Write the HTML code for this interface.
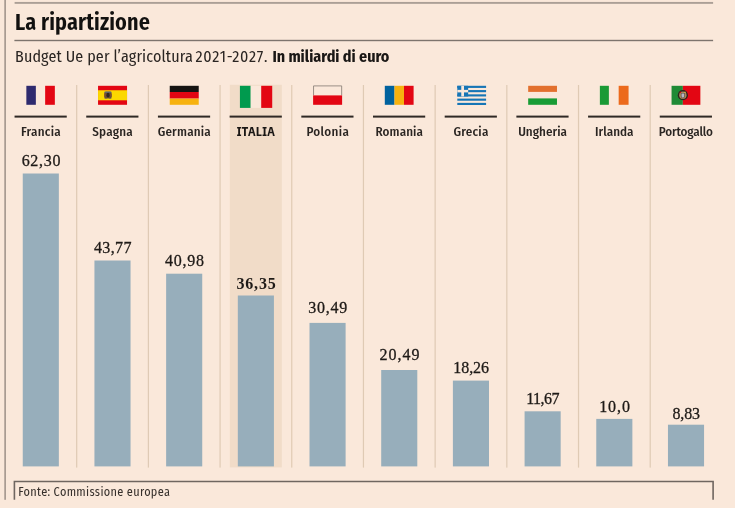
<!DOCTYPE html>
<html lang="it"><head><meta charset="utf-8"><title>La ripartizione</title>
<style>
html,body{margin:0;padding:0}
body{width:735px;height:508px;background:#fae8da;position:relative;overflow:hidden;font-family:"Fira Sans Condensed","Liberation Sans",sans-serif;color:#1e1a17}
svg.g{position:absolute;left:0;top:0}
#title{position:absolute;left:15px;top:7px;font-family:"Fira Sans Extra Condensed","Liberation Sans",sans-serif;font-weight:600;font-size:24px;letter-spacing:0.15px;line-height:30px;white-space:nowrap;color:#121110}
#sub{position:absolute;left:15px;top:47px;font-size:16px;line-height:20px;white-space:nowrap;color:#2a2522}
#sub .r{letter-spacing:0.13px}
#sub .d{letter-spacing:0.75px;margin-left:-1.3px}
#sub .s{display:inline-block;width:4.3px}
#sub b{font-weight:700;color:#1a1715}
.nm{position:absolute;top:124px;width:72px;text-align:center;font-size:13px;line-height:16px;font-weight:500;white-space:nowrap;color:#2a2522}
.nm.b{font-family:"IBM Plex Sans Condensed","Fira Sans Condensed","Liberation Sans",sans-serif;font-weight:700;color:#1a1715}
.vl{position:absolute;width:72px;text-align:center;text-indent:0.6px;letter-spacing:0.6px;font-family:"Liberation Serif",serif;font-size:16px;line-height:20px;white-space:nowrap;color:#1e1a17;-webkit-text-stroke:0.3px #1e1a17}
.vl.b{font-weight:700;-webkit-text-stroke:0}
.nm .t{display:inline-block}
body.nf #title{font-size:22.4px;font-weight:700;letter-spacing:0;top:7.5px;-webkit-text-stroke:0.4px #121110}
body.nf #sub{font-size:15.2px;top:47.5px}
body.nf #sub .r,body.nf #sub .d{letter-spacing:0}
body.nf .nm{font-size:12.4px;font-weight:700;letter-spacing:0!important;text-indent:0!important}
body.nf #src{font-size:11.8px;letter-spacing:0}
#src{position:absolute;left:18.3px;top:484px;font-size:12.2px;font-weight:400;letter-spacing:0.33px;line-height:16px;white-space:nowrap;color:#36302c}
</style></head><body>
<svg class="g" width="735" height="508" viewBox="0 0 735 508">
<rect x="229.82" y="84.8" width="52" height="382.6" fill="#f1dcc8"/>
<rect x="76.09" y="85" width="1.2" height="382.6" fill="#dfcab4"/>
<rect x="147.78" y="85" width="1.2" height="382.6" fill="#dfcab4"/>
<rect x="219.47" y="85" width="1.2" height="382.6" fill="#dfcab4"/>
<rect x="291.16" y="85" width="1.2" height="382.6" fill="#dfcab4"/>
<rect x="362.85" y="85" width="1.2" height="382.6" fill="#dfcab4"/>
<rect x="434.54" y="85" width="1.2" height="382.6" fill="#dfcab4"/>
<rect x="506.23" y="85" width="1.2" height="382.6" fill="#dfcab4"/>
<rect x="577.92" y="85" width="1.2" height="382.6" fill="#dfcab4"/>
<rect x="649.61" y="85" width="1.2" height="382.6" fill="#dfcab4"/>
<rect x="22.75" y="173.50" width="36.1" height="292.90" fill="#97aebb"/>
<rect x="94.44" y="260.50" width="36.1" height="205.90" fill="#97aebb"/>
<rect x="166.13" y="273.70" width="36.1" height="192.70" fill="#97aebb"/>
<rect x="237.82" y="295.50" width="36.1" height="170.90" fill="#97aebb"/>
<rect x="309.51" y="322.90" width="36.1" height="143.50" fill="#97aebb"/>
<rect x="381.20" y="370.00" width="36.1" height="96.40" fill="#97aebb"/>
<rect x="452.89" y="380.60" width="36.1" height="85.80" fill="#97aebb"/>
<rect x="524.58" y="411.30" width="36.1" height="55.10" fill="#97aebb"/>
<rect x="596.27" y="418.90" width="36.1" height="47.50" fill="#97aebb"/>
<rect x="667.96" y="424.70" width="36.1" height="41.70" fill="#97aebb"/>
<rect x="14.55" y="115.6" width="52.2" height="2" fill="#2f2925"/>
<rect x="86.24" y="115.6" width="52.2" height="2" fill="#2f2925"/>
<rect x="157.93" y="115.6" width="52.2" height="2" fill="#2f2925"/>
<rect x="229.62" y="115.6" width="52.2" height="2" fill="#2f2925"/>
<rect x="301.31" y="115.6" width="52.2" height="2" fill="#2f2925"/>
<rect x="373.00" y="115.6" width="52.2" height="2" fill="#2f2925"/>
<rect x="444.69" y="115.6" width="52.2" height="2" fill="#2f2925"/>
<rect x="516.38" y="115.6" width="52.2" height="2" fill="#2f2925"/>
<rect x="588.07" y="115.6" width="52.2" height="2" fill="#2f2925"/>
<rect x="659.76" y="115.6" width="52.2" height="2" fill="#2f2925"/>
<g transform="translate(26.35,85.8)"><rect x="0" y="0" width="9.5" height="19" fill="#2e2a6e"/><rect x="18.8" y="0" width="9.7" height="19" fill="#e30613"/></g>
<g transform="translate(98.04,85.8)"><rect x="0" y="0" width="29" height="19" fill="#e30613"/><rect x="0" y="4.45" width="29" height="10.05" fill="#fbd800"/><rect x="6.1" y="5.9" width="7.6" height="6.9" rx="2" fill="#74502f"/><rect x="6.4" y="5.8" width="7" height="1.3" rx="0.6" fill="#5f6572"/><rect x="6.4" y="11.6" width="2.2" height="1.2" rx="0.5" fill="#4a5366"/><rect x="11.2" y="11.6" width="2.2" height="1.2" rx="0.5" fill="#4a5366"/><ellipse cx="10" cy="9.4" rx="1.6" ry="2.4" fill="#2e2622"/><rect x="6.1" y="8.2" width="1.2" height="2.6" fill="#8a5a34"/><rect x="12.5" y="8.2" width="1.2" height="2.6" fill="#8a5a34"/></g>
<g transform="translate(169.73,85.8)"><rect x="0" y="0" width="29" height="6.2" fill="#161412"/><rect x="0" y="6.2" width="29" height="6.6" fill="#e30613"/><rect x="0" y="12.8" width="29" height="6.2" fill="#f7b20f"/></g>
<g transform="translate(239.92,85.8)"><rect x="0" y="0" width="10.8" height="22.1" fill="#009a4e"/><rect x="10.8" y="0" width="10.5" height="22.1" fill="#fae8da"/><rect x="21.3" y="0" width="11" height="22.1" fill="#e30613"/></g>
<g transform="translate(313.11,85.8)"><path d="M0.45 9.6 V0.1 H28.55 V9.6" fill="none" stroke="#8f857d" stroke-width="0.9"/><rect x="0" y="9.6" width="29" height="9.4" fill="#e30613"/></g>
<g transform="translate(384.80,85.8)"><rect x="0" y="0" width="9.7" height="19" fill="#00629e"/><rect x="9.7" y="0" width="9.5" height="19" fill="#f7b20f"/><rect x="19.2" y="0" width="9.6" height="19" fill="#e30613"/></g>
<g transform="translate(456.49,85.8)"><g transform="translate(0.8,0)"><rect x="0" y="0.00" width="28.8" height="2.13" fill="#1675b6"/><rect x="0" y="4.27" width="28.8" height="2.13" fill="#1675b6"/><rect x="0" y="8.53" width="28.8" height="2.13" fill="#1675b6"/><rect x="0" y="12.80" width="28.8" height="2.13" fill="#1675b6"/><rect x="0" y="17.07" width="28.8" height="2.13" fill="#1675b6"/><rect x="0" y="0" width="10.87" height="10.67" fill="#1675b6"/><rect x="3.97" y="0" width="2.73" height="10.67" fill="#fae8da"/><rect x="0" y="4.07" width="10.87" height="2.53" fill="#fae8da"/></g></g>
<g transform="translate(528.18,85.8)"><rect x="0" y="0" width="28.8" height="6.1" fill="#e2702e"/><rect x="0" y="12.6" width="28.8" height="6.4" fill="#189c35"/></g>
<g transform="translate(599.87,85.8)"><rect x="0" y="0" width="9.0" height="19" fill="#1a9a35"/><rect x="18.8" y="0" width="9.9" height="19" fill="#ec6a1c"/></g>
<g transform="translate(671.56,85.8)"><rect x="0" y="0" width="11.3" height="19" fill="#1f8a35"/><rect x="11.3" y="0" width="17.5" height="19" fill="#e30613"/><circle cx="11.3" cy="9.4" r="5.1" fill="#2c241c"/><circle cx="11.3" cy="9.4" r="3.7" fill="#a8875a"/><path d="M9.3 7.2 H13.3 V10.2 Q13.3 12.2 11.3 12.6 Q9.3 12.2 9.3 10.2 Z" fill="#5a4636"/><path d="M9.9 7.8 H12.7 V10.1 Q12.7 11.6 11.3 11.9 Q9.9 11.6 9.9 10.1 Z" fill="#b4b6c6"/><rect x="8.2" y="5.9" width="1.3" height="1.3" fill="#e30613"/><rect x="12.9" y="5.9" width="1.2" height="1.2" fill="#e8c23a"/></g>
<rect x="4.55" y="0" width="1.05" height="499.8" fill="#756b64"/>
<rect x="14.6" y="1.95" width="698.5" height="1.9" fill="#ab9f96"/>
<rect x="14.4" y="39.8" width="698.7" height="1.4" fill="#7d746d"/>
<path d="M14.4 499.8 V481.5 H713.1 V499.8" fill="none" stroke="#6f6660" stroke-width="1.6"/>
</svg>
<div id="title">La ripartizione</div>
<div id="sub"><span class="r">Budget Ue per l’agricoltura </span><span class="d">2021-2027.</span><span class="s"></span><b>In miliardi di euro</b></div>
<div class="nm" style="left:4.75px;letter-spacing:0.25px;text-indent:0.25px"><span class="t">Francia</span></div>
<div class="vl" style="left:5.05px;top:150.90px;letter-spacing:0.7px;text-indent:0.7px">62,30</div>
<div class="nm" style="left:76.44px;letter-spacing:0.2px;text-indent:0.2px"><span class="t">Spagna</span></div>
<div class="vl" style="left:76.74px;top:238.30px;letter-spacing:0.38px;text-indent:0.38px">43,77</div>
<div class="nm" style="left:148.13px;letter-spacing:0.2px;text-indent:0.2px"><span class="t">Germania</span></div>
<div class="vl" style="left:148.43px;top:250.70px;letter-spacing:0.75px;text-indent:0.75px">40,98</div>
<div class="nm b" style="left:219.82px;letter-spacing:0px;text-indent:0px"><span class="t">ITALIA</span></div>
<div class="vl b" style="left:220.12px;top:273.90px;letter-spacing:0.85px;text-indent:0.85px">36,35</div>
<div class="nm" style="left:291.51px;letter-spacing:0.33px;text-indent:0.33px"><span class="t">Polonia</span></div>
<div class="vl" style="left:291.81px;top:298.20px;letter-spacing:0.73px;text-indent:0.73px">30,49</div>
<div class="nm" style="left:363.20px;letter-spacing:0.1px;text-indent:0.1px"><span class="t">Romania</span></div>
<div class="vl" style="left:363.50px;top:344.50px;letter-spacing:0.95px;text-indent:0.95px">20,49</div>
<div class="nm" style="left:434.89px;letter-spacing:0.2px;text-indent:0.2px"><span class="t">Grecia</span></div>
<div class="vl" style="left:435.19px;top:357.90px;letter-spacing:-0.08px;text-indent:-0.08px">18,26</div>
<div class="nm" style="left:506.58px;letter-spacing:0.03px;text-indent:0.03px"><span class="t">Ungheria</span></div>
<div class="vl" style="left:506.88px;top:389.10px;letter-spacing:-0.5px;text-indent:-0.5px">11,67</div>
<div class="nm" style="left:578.27px;letter-spacing:0.03px;text-indent:0.03px"><span class="t">Irlanda</span></div>
<div class="vl" style="left:578.57px;top:396.60px;letter-spacing:0.9px;text-indent:0.9px">10,0</div>
<div class="nm" style="left:649.96px;letter-spacing:-0.15px;text-indent:-0.15px"><span class="t">Portogallo</span></div>
<div class="vl" style="left:650.26px;top:403.50px;letter-spacing:-0.15px;text-indent:-0.15px">8,83</div>
<div id="src">Fonte: Commissione europea</div>
<script>
(function(){
  var cv=document.createElement('canvas').getContext('2d');
  var s='Budget Ue per agricoltura 0123456789 FIGRU';
  function wd(f){cv.font=f;return cv.measureText(s).width;}
  var has=wd('40px "Fira Sans Condensed",monospace')!==wd('40px monospace')||wd('40px "Fira Sans Condensed",serif')!==wd('40px serif');
  if(has)return;
  var b=document.body;b.className+=' nf';
  function fit(el,target,origin){
    el.style.transform='none';
    var r=el.getBoundingClientRect();
    if(r.width>0){el.style.transformOrigin=origin;el.style.transform='scaleX('+(target/r.width).toFixed(4)+')';}
  }
  fit(document.getElementById('title'),134,'0 50%');
  fit(document.getElementById('sub'),376,'0 50%');
  fit(document.getElementById('src'),151,'0 50%');
  var tw=[40,41,53,38.5,42,47.5,35,48.5,39,53.5];
  var nm=document.querySelectorAll('.nm .t');
  for(var i=0;i<nm.length;i++)fit(nm[i],tw[i],'50% 50%');
})();
</script>
</body></html>
